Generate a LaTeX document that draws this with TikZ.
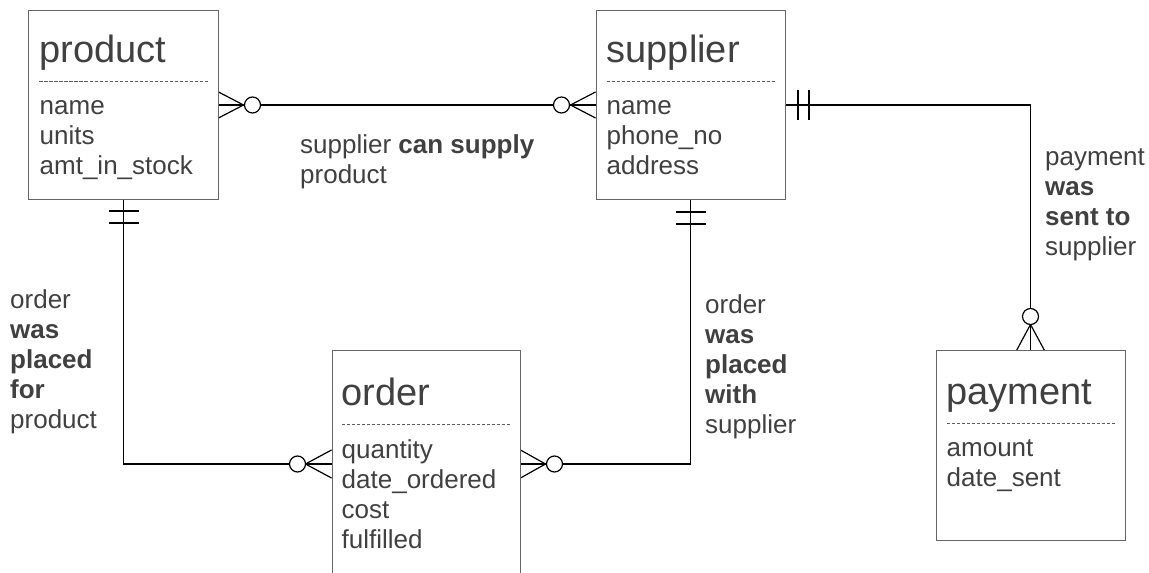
\documentclass[tikz,border=0pt]{standalone}
\usepackage{fontspec}
\setmainfont{Liberation Sans}
\usetikzlibrary{calc,backgrounds}
\definecolor{ink}{HTML}{404040}
\definecolor{frame}{HTML}{666666}
\tikzstyle{er}=[
  x=1bp,y=-1bp,line join=miter
]
\tikzstyle{entity}=[
  draw=frame,line width=1bp,rectangle,inner sep=0pt,fill=white,minimum width=189bp
]
\tikzstyle{ename}=[
  text=ink,inner sep=0pt,anchor=base west,font=\fontsize{38bp}{44bp}\selectfont
]
\tikzstyle{attrs}=[
  text=ink,inner sep=0pt,anchor=base west,align=left,font=\fontsize{26bp}{30bp}\selectfont
]
\tikzstyle{dashsep}=[
  draw=ink!85,line width=0.8bp,dash pattern=on 3.5bp off 1.5bp
]
\tikzstyle{relline}=[
  line width=1.1bp
]
\tikzstyle{onebar}=[
  line width=2bp
]
\tikzstyle{crowfoot}=[
  line width=1.2bp
]
\tikzstyle{zerocirc}=[
  draw,circle,line width=1.2bp,fill=white,minimum size=16bp,inner sep=0pt
]

\begin{document}
\begin{tikzpicture}[er]
    \useasboundingbox (0,0) rectangle (1149,573);
    \clip (0,0) rectangle (1149,573);

    % base of a block of lines is its last line
    \def\tt{52}
    \def\lh{30}

    % entities
    \node (product) at (123.5,105) [entity,minimum height=188bp] {};
    \node (supplier) at (690.5,105) [entity,minimum height=188bp] {};
    \node (order) at (426,464) [entity,minimum width=188bp,minimum height=226bp] {};
    \node (payment) at (1030.5,445.5) [entity,minimum height=189bp] {};

    \node (product-t) at ($(product.north west) + (11,\tt)$) [ename] {product};
    \node (product-a) at ($(product.north west) + (11,104+2*\lh)$) [attrs] {name\\units\\amt\_in\_stock};
    \draw [dashsep] ($(product.north west) + (11,71)$) -- ($(product.north east) + (-11,71)$);

    \node (supplier-t) at ($(supplier.north west) + (11,\tt)$) [ename] {supplier};
    \node (supplier-a) at ($(supplier.north west) + (11,104+2*\lh)$) [attrs] {name\\phone\_no\\address};
    \draw [dashsep] ($(supplier.north west) + (11,71)$) -- ($(supplier.north east) + (-11,71)$);

    \node (order-t) at ($(order.north west) + (10,\tt+3)$) [ename] {order};
    \node (order-a) at ($(order.north west) + (10,108+3*\lh)$) [attrs] {quantity\\date\_ordered\\cost\\fulfilled};
    \draw [dashsep] ($(order.north west) + (10,74)$) -- ($(order.north east) + (-10,74)$);

    \node (payment-t) at ($(payment.north west) + (11,\tt+2)$) [ename] {payment};
    \node (payment-a) at ($(payment.north west) + (11,106+\lh)$) [attrs] {amount\\date\_sent};
    \draw [dashsep] ($(payment.north west) + (11,73)$) -- ($(payment.north east) + (-11,73)$);

    % relationship labels
    \node (supplies) at (300,184) [attrs] {supplier \textbf{can supply}\\product};
    \node (placedfor) at (10,428) [attrs] {order\\\textbf{was}\\\textbf{placed}\\\textbf{for}\\product};
    \node (placedwith) at (705,433) [attrs] {order\\\textbf{was}\\\textbf{placed}\\\textbf{with}\\supplier};
    \node (sentto) at (1045,256) [attrs] {payment\\\textbf{was}\\\textbf{sent to}\\supplier};

    % optional ends
    \node (o1) at ($(product.east) + (34,0)$) [zerocirc] {};
    \node (o2) at ($(supplier.west) + (-34,0)$) [zerocirc] {};
    \node (o3) at ($(order.west) + (-34,0)$) [zerocirc] {};
    \node (o4) at ($(order.east) + (34,0)$) [zerocirc] {};
    \node (o5) at ($(payment.north) + (0,-34)$) [zerocirc] {};

    \begin{scope}[on background layer]
      \draw [relline] (product.east) -- (supplier.west);
      \draw [relline] (product.south) |- (order.west);
      \draw [relline] (supplier.south) |- (order.east);
      \draw [relline] (supplier.east) -| (payment.north);

      \draw [crowfoot] ($(product.east) + (0,-13)$) -- ($(product.east) + (25,0)$) -- ($(product.east) + (0,13)$);
      \draw [crowfoot] ($(supplier.west) + (0,-13)$) -- ($(supplier.west) + (-25,0)$) -- ($(supplier.west) + (0,13)$);
      \draw [crowfoot] ($(order.west) + (0,-14)$) -- ($(order.west) + (-26,0)$) -- ($(order.west) + (0,14)$);
      \draw [crowfoot] ($(order.east) + (0,-14)$) -- ($(order.east) + (25,0)$) -- ($(order.east) + (0,14)$);
      \draw [crowfoot] ($(payment.north) + (-14,0)$) -- ($(payment.north) + (0,-26)$) -- ($(payment.north) + (14,0)$);
    \end{scope}

    % one and only one
    \draw [onebar] ($(product.south) + (-15,11)$) -- ($(product.south) + (15,11)$);
    \draw [onebar] ($(product.south) + (-15,23)$) -- ($(product.south) + (15,23)$);
    \draw [onebar] ($(supplier.south) + (-15,12)$) -- ($(supplier.south) + (15,12)$);
    \draw [onebar] ($(supplier.south) + (-15,24)$) -- ($(supplier.south) + (15,24)$);
    \draw [onebar] ($(supplier.east) + (12,-15)$) -- ($(supplier.east) + (12,15)$);
    \draw [onebar] ($(supplier.east) + (23,-15)$) -- ($(supplier.east) + (23,15)$);

  \end{tikzpicture}
\end{document}
